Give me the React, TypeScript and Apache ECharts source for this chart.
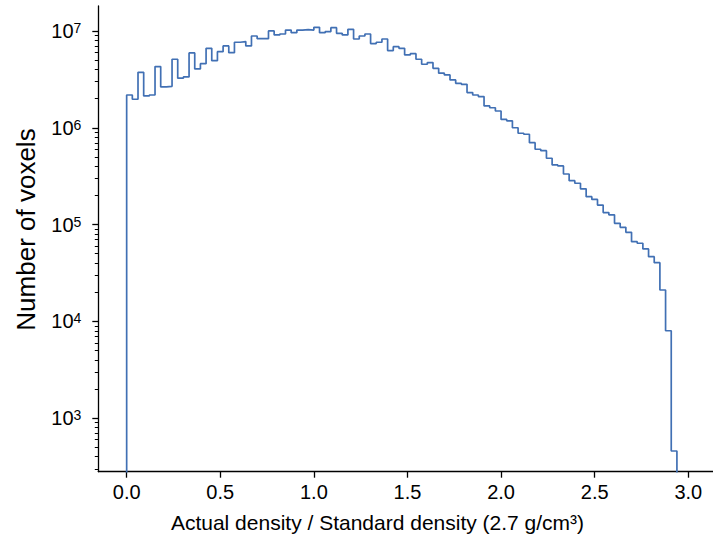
import React, { useEffect, useRef } from "react";
import * as echarts from "echarts";

// Histogram bin width (x units) and counts per bin, starting at x = 0
const BIN_WIDTH = 0.0303;
const COUNTS = [
  2.18e6, 1.97e6, 3.74e6, 2.13e6, 2.18e6, 4.28e6, 2.64e6, 2.68e6, 5.1e6, 3.25e6,
  3.35e6, 5.93e6, 4.05e6, 4.59e6, 6.62e6, 4.93e6, 6.11e6, 7.0e6, 5.97e6, 7.64e6,
  7.76e6, 7.0e6, 8.87e6, 8.33e6, 8.33e6, 1.0e7, 9.1e6, 9.3e6, 1.02e7, 9.6e6,
  1.02e7, 1.03e7, 1.02e7, 1.09e7, 9.6e6, 9.84e6, 1.08e7, 9.46e6, 9.1e6, 1.04e7,
  8.26e6, 8.87e6, 9.3e6, 7.4e6, 7.64e6, 8.26e6, 6.27e6, 6.88e6, 6.62e6, 5.65e6,
  5.83e6, 5.1e6, 4.53e6, 4.71e6, 4.11e6, 3.66e6, 3.51e6, 3.12e6, 2.88e6, 2.81e6,
  2.31e6, 2.18e6, 2.1e6, 1.68e6, 1.61e6, 1.49e6, 1.22e6, 1.18e6, 1.0e6, 8.77e5,
  8.57e5, 7.02e5, 6.0e5, 5.8e5, 4.84e5, 4.13e5, 4.03e5, 3.33e5, 2.84e5, 2.67e5,
  2.34e5, 1.94e5, 1.82e5, 1.59e5, 1.33e5, 1.26e5, 1.03e5, 9.37e4, 8.32e4, 6.66e4,
  6.41e4, 5.6e4, 4.66e4, 4.04e4, 2.11e4, 8.0e3, 458,
];
// value used for the empty ends of the histogram (below the visible axis range)
const BASELINE = 100;

const X_MIN = -0.1515;
const X_MAX = 3.1815;
const X_TICKS = [0, 0.5, 1.0, 1.5, 2.0, 2.5, 3.0];

const Y_MIN = 280;
const Y_MAX = 1.81e7;
const Y_TICKS = [1e3, 1e4, 1e5, 1e6, 1e7];
const Y_MINOR_TICKS = [
  300, 400, 500, 600, 700, 800, 900,
  2000, 3000, 4000, 5000, 6000, 7000, 8000, 9000,
  20000, 30000, 40000, 50000, 60000, 70000, 80000, 90000,
  200000, 300000, 400000, 500000, 600000, 700000, 800000, 900000,
  2000000, 3000000, 4000000, 5000000, 6000000, 7000000, 8000000, 9000000,
];

const X_TITLE = "Actual density / Standard density (2.7 g/cm³)";
const Y_TITLE = "Number of voxels";

const FONT = "'Liberation Sans', Arial, Helvetica, sans-serif";
const LINE_COLOR = "#4170b4";

export default function App() {
  const ref = useRef<HTMLDivElement>(null);

  useEffect(() => {
    if (!ref.current) return;
    const chart = echarts.init(ref.current, undefined, { renderer: "svg" });

    const data: [number, number][] = [[0, BASELINE]];
    COUNTS.forEach((c, i) => data.push([i * BIN_WIDTH, c]));
    const endX = COUNTS.length * BIN_WIDTH;
    data.push([endX, COUNTS[COUNTS.length - 1]]);
    data.push([endX, BASELINE]);

    const axisLineStyle = { color: "#000", width: 1.3 };

    const option: any = {
      animation: false,
      grid: {
        left: 98.3,
        top: 6,
        right: -9.3,
        bottom: 63.3,
        containLabel: false,
        outerBoundsMode: "none",
      },
      xAxis: {
        type: "value",
        min: X_MIN,
        max: X_MAX,
        axisLine: { show: true, onZero: false, lineStyle: axisLineStyle },
        axisTick: { show: true, customValues: X_TICKS, length: 6, lineStyle: axisLineStyle },
        axisLabel: {
          customValues: X_TICKS,
          formatter: (v: number) => v.toFixed(1),
          margin: 10,
          fontSize: 20,
          color: "#000",
          fontFamily: FONT,
        },
        splitLine: { show: false },
      },
      yAxis: [
        {
          type: "log",
          logBase: 10,
          min: Y_MIN,
          max: Y_MAX,
          position: "left",
          axisLine: { show: true, onZero: false, lineStyle: axisLineStyle },
          axisTick: { show: true, customValues: Y_TICKS, length: 6, lineStyle: axisLineStyle },
          axisLabel: {
            customValues: Y_TICKS,
            margin: 17,
            formatter: (v: number) => `{b|10}{s|${Math.round(Math.log10(v))}}`,
            rich: {
              b: { fontSize: 20, fontFamily: FONT, color: "#000", lineHeight: 20, verticalAlign: "bottom" },
              s: { fontSize: 14, fontFamily: FONT, color: "#000", lineHeight: 12, padding: [0, 0, 10, 0], verticalAlign: "top" },
            },
          },
          splitLine: { show: false },
          minorTick: { show: false },
        },
        {
          type: "log",
          logBase: 10,
          min: Y_MIN,
          max: Y_MAX,
          position: "left",
          axisLine: { show: false, onZero: false },
          axisTick: { show: true, customValues: Y_MINOR_TICKS, length: 3.5, lineStyle: { color: "#000", width: 1 } },
          axisLabel: { show: false },
          splitLine: { show: false },
        },
      ],
      series: [
        {
          type: "line",
          step: "end",
          data,
          yAxisIndex: 0,
          symbol: "none",
          showSymbol: false,
          clip: true,
          lineStyle: { color: LINE_COLOR, width: 1.7 },
          emphasis: { disabled: true },
        },
      ],
      graphic: [
        {
          type: "text",
          x: 377.5,
          y: 522,
          style: {
            text: X_TITLE,
            fontSize: 21,
            fontFamily: FONT,
            fill: "#000",
            align: "center",
            verticalAlign: "middle",
          },
        },
        {
          type: "text",
          x: 26,
          y: 229.5,
          rotation: Math.PI / 2,
          style: {
            text: Y_TITLE,
            fontSize: 26,
            fontFamily: FONT,
            fill: "#000",
            align: "center",
            verticalAlign: "middle",
          },
        },
      ],
    };

    chart.setOption(option);
    return () => chart.dispose();
  }, []);

  return (
    <div
      ref={ref}
      style={{ position: "absolute", left: 0, top: 0, width: 713, height: 535, background: "#fff" }}
    />
  );
}
